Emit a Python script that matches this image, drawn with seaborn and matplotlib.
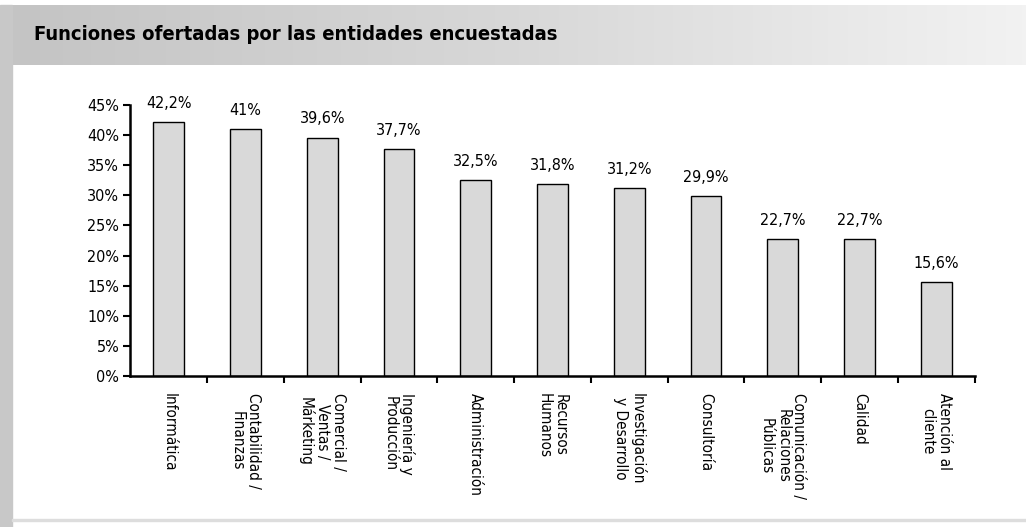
import matplotlib
matplotlib.use("Agg")
import matplotlib.pyplot as plt
import seaborn as sns
import numpy as np
import pandas as pd
from matplotlib.patches import Rectangle
from matplotlib.ticker import FixedLocator

categories = ["Informática", "Contabilidad /\nFinanzas", "Comercial /\nVentas /\nMárketing",
              "Ingeniería y\nProducción", "Administración", "Recursos\nHumanos",
              "Investigación\ny Desarrollo", "Consultoría", "Comunicación /\nRelaciones\nPúblicas",
              "Calidad", "Atención al\ncliente"]
values = [42.2, 41.0, 39.6, 37.7, 32.5, 31.8, 31.2, 29.9, 22.7, 22.7, 15.6]
value_labels = ["42,2%", "41%", "39,6%", "37,7%", "32,5%", "31,8%", "31,2%", "29,9%", "22,7%", "22,7%", "15,6%"]
yticks = [0, 5, 10, 15, 20, 25, 30, 35, 40, 45]
ytick_labels = ["0%", "5%", "10%", "15%", "20%", "25%", "30%", "35%", "40%", "45%"]
title = "Funciones ofertadas por las entidades encuestadas"

sns.set_style("white")
plt.rcParams['font.family'] = ['DejaVu Sans']
plt.rcParams['font.stretch'] = 'condensed'
plt.rcParams['text.color'] = 'black'
plt.rcParams['xtick.color'] = 'black'
plt.rcParams['ytick.color'] = 'black'
plt.rcParams['xtick.labelcolor'] = 'black'
plt.rcParams['ytick.labelcolor'] = 'black'

fig = plt.figure(figsize=(10.26, 5.27), dpi=100)

# background decorations
fig.patches.append(Rectangle((0, 0), 0.012, 0.99, transform=fig.transFigure, color="#c8c8c8", zorder=0))
fig.patches.append(Rectangle((0.012, 0.012), 0.988, 0.004, transform=fig.transFigure, color="#dddddd", zorder=0))
grad_ax = fig.add_axes([0.012, 0.877, 0.988, 0.113])
grad = np.linspace(0, 1, 256).reshape(1, -1)
grad_ax.imshow(grad, aspect="auto", cmap=matplotlib.colors.LinearSegmentedColormap.from_list("g", ["#c4c4c4", "#d8d8d8", "#f2f2f2"]), extent=[0, 1, 0, 1])
grad_ax.set_axis_off()
fig.text(0.033, 0.935, title, fontsize=14.5, fontweight="bold", va="center", ha="left", color="black")

ax = fig.add_axes([0.127, 0.2865, 0.823, 0.5143])
df = pd.DataFrame({"cat": categories, "val": values})
sns.barplot(data=df, x="cat", y="val", ax=ax, color="#d9d9d9", edgecolor="black", linewidth=1.0, width=0.4, saturation=1)
ax.set_xlim(-0.5, len(categories) - 0.5)
ax.set_ylim(0, 45)
ax.set_yticks(yticks)
ax.set_yticklabels(ytick_labels, fontsize=11.5)
ax.set_xticks(range(len(categories)))
ax.set_xticklabels(categories, rotation=270, fontsize=11, ha="center", va="top", linespacing=1.1, multialignment="center")
ax.tick_params(axis="x", which="major", length=0, pad=12)
ax.xaxis.set_minor_locator(FixedLocator(np.arange(0.5, len(categories), 1.0)))
ax.tick_params(axis="x", which="minor", length=5, width=1.5, direction="out", color="black", bottom=True)
ax.tick_params(axis="y", length=5, width=1.5, direction="out", color="black", left=True, pad=3)
ax.set_xlabel("")
ax.set_ylabel("")
for s in ["top", "right"]:
    ax.spines[s].set_visible(False)
for s in ["left", "bottom"]:
    ax.spines[s].set_linewidth(1.8)
    ax.spines[s].set_color("black")
for i, (v, lab) in enumerate(zip(values, value_labels)):
    ax.annotate(lab, (i, v), xytext=(0, 8), textcoords="offset points", ha="center", va="bottom", fontsize=11.5, color="black")

fig.savefig("out.png", dpi=100)
